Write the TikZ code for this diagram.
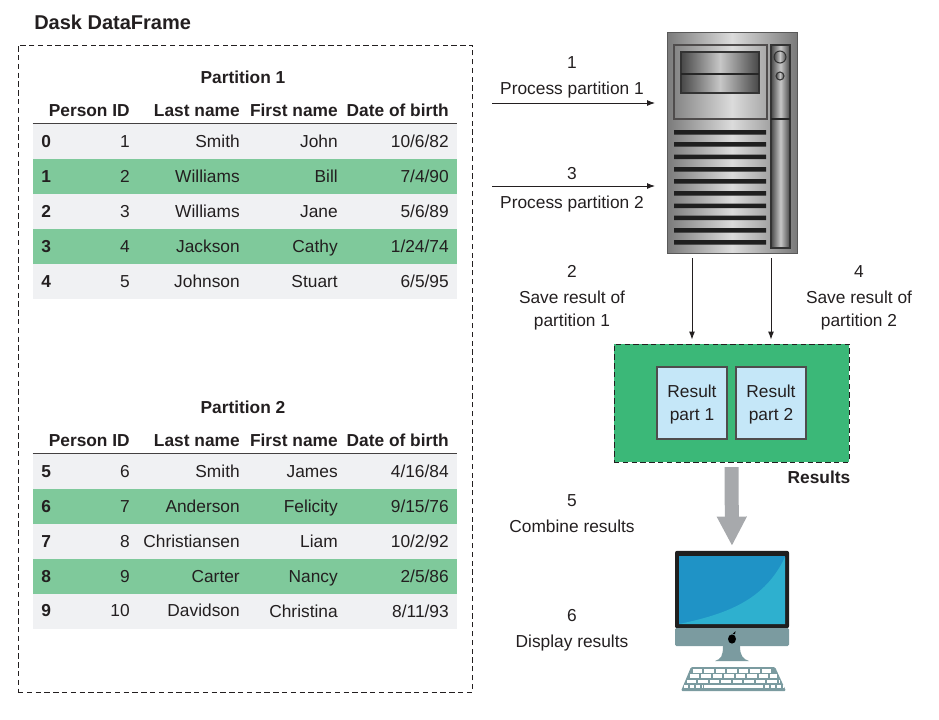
\documentclass[tikz,border=0pt]{standalone}
\usepackage{fontspec}
\setmainfont{Liberation Sans}
\usepackage{xcolor}
\usepackage{tikz}
\usetikzlibrary{arrows.meta,positioning}
\definecolor{ddink}{RGB}{35,31,32}
\definecolor{ddrow}{RGB}{240,241,243}
\definecolor{ddgreen}{RGB}{127,201,155}
\definecolor{ddresult}{RGB}{59,184,120}
\definecolor{ddpart}{RGB}{197,231,248}
\definecolor{ddgray}{RGB}{167,169,172}
\definecolor{ddscreen}{RGB}{31,147,198}
\definecolor{ddglow}{RGB}{46,176,207}
\definecolor{ddchin}{RGB}{123,155,160}
\newcommand{\ddfont}{\fontsize{13}{17.25}\selectfont}
\tikzset{
  ddtext/.style={text=ddink, inner sep=0pt, font=\ddfont},
  ddlabel/.style={ddtext, align=center},
  ddhead/.style={ddtext, anchor=base east, font=\ddfont\bfseries},
  ddcell/.style={ddtext, anchor=base east},
  ddidx/.style={ddtext, anchor=base west, font=\ddfont\bfseries},
  ddband/.style={fill=ddrow, minimum width=318pt, minimum height=26.25pt, inner sep=0pt},
  ddbandg/.style={ddband, fill=ddgreen},
  ddarrow/.style={-{Latex[length=6pt,width=4.5pt]}, draw=ddink, line width=0.7pt},
  ddbig/.style={-{Triangle[length=22pt,width=21pt]}, draw=ddgray, line width=10.5pt,
    shorten <=3.5pt, shorten >=3.5pt},
  ddframe/.style={draw=ddink, dashed, dash pattern=on 4pt off 2.6pt, line width=0.7pt, inner sep=0pt},
  ddpartbox/.style={draw=ddink!80, fill=ddpart, line width=0.8pt, inner sep=0pt,
    minimum width=52.5pt, minimum height=54pt},
  ddparttext/.style={ddlabel, yshift=-1.5pt},
  ddmetal/.style={left color=black!52, right color=black!52, middle color=black!14,
    draw=black!65, line width=0.7pt},
  dddark/.style={left color=black!72, right color=black!72, middle color=black!22,
    draw=black!80, line width=0.8pt},
  ddkeys/.style={draw=white, line width=2.6pt, dash pattern=on 7pt off 1.6pt}
}
\begin{document}
\begin{tikzpicture}[x=0.75pt,y=-0.75pt]
  \useasboundingbox (0,0) rectangle (939,719);
  % left frame
  \node[ddtext, anchor=base west, font=\fontsize{15}{18}\selectfont\bfseries] (mTitle) at (34,29) {Dask DataFrame};
  \node[ddframe, minimum width=341pt, minimum height=485.25pt] (mFrame) at (245.3,368.5) {};
  % partition 1
  \node[ddhead, anchor=base] (mPartA) at (243,83) {Partition 1};
  \node[ddhead] (hA1) at (130,116) {Person ID};
  \node[ddhead] (hA2) at (240,116) {Last name};
  \node[ddhead] (hA3) at (338,116) {First name};
  \node[ddhead] (hA4) at (449,116) {Date of birth};
  \node[ddband] (rA0) at (245,141) {};
  \node[ddbandg] (rA1) at (245,176) {};
  \node[ddband] (rA2) at (245,211) {};
  \node[ddbandg] (rA3) at (245,246) {};
  \node[ddband] (rA4) at (245,281.5) {};
  \draw[draw=ddink!85, line width=0.8pt] (rA0.north west) -- (rA0.north east);
  \node[ddidx] (iA0) at (41,147) {0};
  \node[ddcell] (aA0) at (130,147) {1};
  \node[ddcell] (bA0) at (240,147) {Smith};
  \node[ddcell] (cA0) at (338,147) {John};
  \node[ddcell] (dA0) at (449,147) {10/6/82};
  \node[ddidx] (iA1) at (41,182) {1};
  \node[ddcell] (aA1) at (130,182) {2};
  \node[ddcell] (bA1) at (240,182) {Williams};
  \node[ddcell] (cA1) at (338,182) {Bill};
  \node[ddcell] (dA1) at (449,182) {7/4/90};
  \node[ddidx] (iA2) at (41,217) {2};
  \node[ddcell] (aA2) at (130,217) {3};
  \node[ddcell] (bA2) at (240,217) {Williams};
  \node[ddcell] (cA2) at (338,217) {Jane};
  \node[ddcell] (dA2) at (449,217) {5/6/89};
  \node[ddidx] (iA3) at (41,252) {3};
  \node[ddcell] (aA3) at (130,252) {4};
  \node[ddcell] (bA3) at (240,252) {Jackson};
  \node[ddcell] (cA3) at (338,252) {Cathy};
  \node[ddcell] (dA3) at (449,252) {1/24/74};
  \node[ddidx] (iA4) at (41,287) {4};
  \node[ddcell] (aA4) at (130,287) {5};
  \node[ddcell] (bA4) at (240,287) {Johnson};
  \node[ddcell] (cA4) at (338,287) {Stuart};
  \node[ddcell] (dA4) at (449,287) {6/5/95};
  % partition 2
  \node[ddhead, anchor=base] (mPartB) at (243,413) {Partition 2};
  \node[ddhead] (hB1) at (130,446) {Person ID};
  \node[ddhead] (hB2) at (240,446) {Last name};
  \node[ddhead] (hB3) at (338,446) {First name};
  \node[ddhead] (hB4) at (449,446) {Date of birth};
  \node[ddband] (rB0) at (245,471) {};
  \node[ddbandg] (rB1) at (245,506) {};
  \node[ddband] (rB2) at (245,541) {};
  \node[ddbandg] (rB3) at (245,576) {};
  \node[ddband] (rB4) at (245,611) {};
  \draw[draw=ddink!85, line width=0.8pt] (rB0.north west) -- (rB0.north east);
  \node[ddidx] (iB0) at (41,477) {5};
  \node[ddcell] (aB0) at (130,477) {6};
  \node[ddcell] (bB0) at (240,477) {Smith};
  \node[ddcell] (cB0) at (338,477) {James};
  \node[ddcell] (dB0) at (449,477) {4/16/84};
  \node[ddidx] (iB1) at (41,512) {6};
  \node[ddcell] (aB1) at (130,512) {7};
  \node[ddcell] (bB1) at (240,512) {Anderson};
  \node[ddcell] (cB1) at (338,512) {Felicity};
  \node[ddcell] (dB1) at (449,512) {9/15/76};
  \node[ddidx] (iB2) at (41,547) {7};
  \node[ddcell] (aB2) at (130,547) {8};
  \node[ddcell] (bB2) at (240,547) {Christiansen};
  \node[ddcell] (cB2) at (338,547) {Liam};
  \node[ddcell] (dB2) at (449,547) {10/2/92};
  \node[ddidx] (iB3) at (41,582) {8};
  \node[ddcell] (aB3) at (130,582) {9};
  \node[ddcell] (bB3) at (240,582) {Carter};
  \node[ddcell] (cB3) at (338,582) {Nancy};
  \node[ddcell] (dB3) at (449,582) {2/5/86};
  \node[ddidx] (iB4) at (41,616) {9};
  \node[ddcell] (aB4) at (130,616) {10};
  \node[ddcell] (bB4) at (240,616) {Davidson};
  \node[ddcell] (cB4) at (338,617) {Christina};
  \node[ddcell] (dB4) at (449,617) {8/11/93};
  % server
  \node[ddmetal, minimum width=97.5pt, minimum height=165.75pt, inner sep=0pt] (mSrv) at (732,142.5) {};
  \draw[ddink!80, line width=0.8pt] (674,45) rectangle (767,119);
  \draw[dddark] (681,52) rectangle (759,93);
  \draw[black!85, line width=0.8pt] (681,74) -- (759,74);
  \draw[dddark] (771,45) rectangle (790,248);
  \draw[black!85, line width=0.8pt] (771,119) -- (790,119);
  \draw[dddark] (780,57) circle (6);
  \draw[dddark] (780,76) circle (4);
  \fill[black!88] (674,130) rectangle (766,134.5) (674,142) rectangle (766,146.5)
    (674,154.5) rectangle (766,159) (674,167) rectangle (766,171.5)
    (674,179) rectangle (766,183.5) (674,191) rectangle (766,195.5)
    (674,203.5) rectangle (766,208) (674,215.5) rectangle (766,220)
    (674,228) rectangle (766,232.5) (674,240) rectangle (766,244.5);
  % results
  \node[ddframe, fill=ddresult, minimum width=176.25pt, minimum height=88.5pt] (mRes) at (731.5,403) {};
  \node[ddpartbox, label={[ddparttext]center:Result\\part 1}] (mPart1) at (692,403) {};
  \node[ddpartbox, label={[ddparttext]center:Result\\part 2}] (mPart2) at (771,403) {};
  \node[ddhead, anchor=base] (mResLbl) at (819,483) {Results};
  % desktop
  \node[fill=black!88, rounded corners=1.5pt, minimum width=85.5pt, minimum height=58pt, inner sep=0pt] (mMac) at (732,589.5) {};
  \fill[ddchin, rounded corners=1pt] (675,628) -- (789,628) -- (789,646) -- (675,646) -- cycle;
  \fill[ddscreen] (679,556) rectangle (785,624);
  \fill[ddglow] (679,624) .. controls (727,614) and (765,600) .. (785,557) -- (785,624) -- cycle;
  \fill[black] (732,639) ellipse (4 and 4.6);
  \fill[black] (732.5,634) -- (735.5,631) -- (735,634) -- cycle;
  \fill[ddchin] (723,646) -- (740,646) .. controls (740,656) and (743,659) .. (749,661) -- (715,661) .. controls (721,659) and (723,656) .. (723,646) -- cycle;
  \fill[ddchin, rounded corners=1pt] (691,667) -- (775,667) -- (786,691) -- (681,691) -- cycle;
  \draw[ddkeys] (693,670.8) -- (773,670.8);
  \draw[ddkeys] (690,676) -- (777,676);
  \draw[ddkeys] (687,681.3) -- (780,681.3);
  \draw[ddkeys, dash pattern=on 3.2pt off 1.2pt] (684,686.7) -- (702,686.7);
  \draw[ddkeys, dash pattern=] (704,686.7) -- (763,686.7);
  \draw[ddkeys, dash pattern=on 3.2pt off 1.2pt] (765,686.7) -- (783,686.7);
  % connectors
  \coordinate (aIn1) at (492,103);
  \coordinate (aEnd1) at (655,103);
  \coordinate (aIn3) at (492,186);
  \coordinate (aEnd3) at (655,186);
  \coordinate (aOut2) at (692,258);
  \coordinate (aOut4) at (771,258);
  \draw[ddarrow] (aIn1) -- (aEnd1);
  \draw[ddarrow] (aIn3) -- (aEnd3);
  \draw[ddarrow, shorten >=3pt] (aOut2) -- (aOut2 |- mRes.north);
  \draw[ddarrow, shorten >=3pt] (aOut4) -- (aOut4 |- mRes.north);
  \draw[ddbig] (mRes.south) -- (mMac.north);
  % step labels
  \node[ddlabel] (mStep1) at (572,77) {1\\[2.25pt]Process partition 1};
  \node[ddlabel] (mStep3) at (572,190) {3\\[4.5pt]Process partition 2};
  \node[ddlabel] (mStep2) at (572,298) {2\\[2.25pt]Save result of\\partition 1};
  \node[ddlabel] (mStep4) at (859,298) {4\\[2.25pt]Save result of\\partition 2};
  \node[ddlabel] (mStep5) at (572,514) {5\\[2.25pt]Combine results};
  \node[ddlabel] (mStep6) at (572,630) {6\\[2.25pt]Display results};
\end{tikzpicture}
\end{document}
